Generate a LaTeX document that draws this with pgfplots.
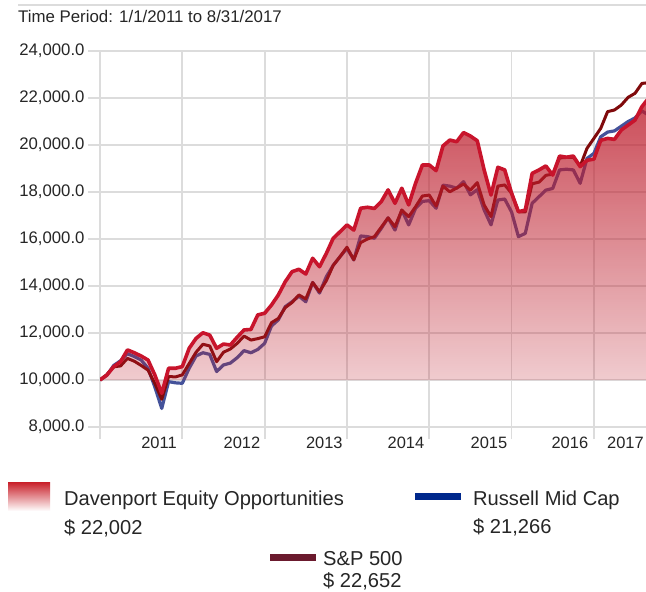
\documentclass[border=0pt]{standalone}
\usepackage{fontspec}
\setmainfont{Liberation Sans}
\usepackage{pgfplots}
\pgfplotsset{compat=1.18}
\usepackage{pgfplotstable}
\usetikzlibrary{fadings}
\definecolor{gridc}{HTML}{DCDCDC}
\definecolor{txt}{HTML}{262626}
\definecolor{davline}{HTML}{C8142C}
\definecolor{spline}{HTML}{800A0C}
\definecolor{rmcline}{HTML}{44529A}
\definecolor{fillc}{HTML}{BE1E2D}
\definecolor{legsp}{HTML}{6B1A2E}
\definecolor{legrmc}{HTML}{00288C}
\definecolor{swtop}{HTML}{C81E28}
\tikzfading[name=fadeup, top color=transparent!20, bottom color=transparent!80]

\pgfplotstableread{
m dav sp rmc
0 10000 10000 10000
1 10210 10230 10200
2 10570 10560 10620
3 10780 10600 10820
4 11280 10920 11120
5 11160 10800 11000
6 11020 10620 10850
7 10850 10420 10500
8 10210 9850 9700
9 9430 9180 8790
10 10500 10150 9930
11 10500 10130 9880
12 10570 10220 9860
13 11350 10700 10500
14 11770 11180 11020
15 12010 11520 11160
16 11910 11450 11090
17 11350 10780 10360
18 11530 11180 10640
19 11490 11320 10720
20 11820 11560 10950
21 12130 11870 11250
22 12150 11700 11160
23 12770 11760 11300
24 12840 11840 11560
25 13190 12440 12300
26 13620 12620 12560
27 14180 13080 13120
28 14610 13300 13330
29 14710 13620 13570
30 14510 13450 13330
31 15180 14150 14150
32 14820 13760 13700
33 15390 14230 14400
34 16030 14880 14880
35 16310 15250 15250
36 16600 15650 15600
37 16380 15120 15110
38 17310 15850 16130
39 17350 16000 16100
40 17300 16100 16030
41 17590 16500 16450
42 18090 16900 16900
43 17520 16520 16380
44 18160 17230 17230
45 17450 16950 16600
46 18370 17370 17300
47 19150 17830 17600
48 19150 17870 17630
49 18910 17400 17310
50 19960 18250 18290
51 20210 18010 18250
52 20140 18170 18160
53 20530 18340 18440
54 20380 18080 17880
55 20180 18400 18100
56 18940 17450 17240
57 17870 16950 16600
58 19050 18250 17660
59 18940 18300 17700
60 17950 17950 17150
61 17160 17160 16100
62 17230 17150 16240
63 18790 18350 17520
64 18940 18420 17800
65 19110 18710 18080
66 18720 18760 18150
67 19530 19450 18940
68 19480 19470 18970
69 19530 19480 18940
70 19080 19100 18370
71 19350 19860 19430
72 19400 20280 19640
73 20200 20710 20350
74 20280 21420 20550
75 20240 21490 20600
76 20640 21700 20800
77 20850 22030 21000
78 21060 22200 21150
79 21630 22620 21450
80 22002 22652 21266
}\data

\pgfplotstableread{
m dav
0 10000
1 10210
2 10570
3 10780
4 11280
5 11160
6 11020
7 10850
8 10210
9 9430
10 10500
11 10500
12 10570
13 11350
14 11770
15 12010
16 11910
17 11350
18 11530
19 11490
20 11820
21 12130
22 12150
23 12770
24 12840
25 13190
26 13620
27 14180
28 14610
29 14710
30 14510
31 15180
32 14820
33 15390
34 16030
35 16310
36 16600
37 16380
38 17310
39 17350
40 17300
41 17590
42 18090
43 17520
44 18160
45 17450
46 18370
47 19150
48 19150
49 18910
50 19960
51 20210
52 20140
53 20530
54 20380
55 20180
56 18940
57 17870
58 19050
59 18940
60 17950
61 17160
62 17230
63 18790
64 18940
65 19110
66 18720
67 19530
68 19480
69 19530
70 19080
71 19350
72 19400
73 20200
74 20280
75 20240
76 20640
77 20850
78 21060
79 21630
80 22002
80 10000
0 10000
}\davarea

\begin{document}
\begin{tikzpicture}[x=1bp,y=1bp]
\useasboundingbox (0,0) rectangle (646,-592);
\fill[white] (0,0) rectangle (646,-592);
\draw[gridc, line width=1.5bp] (18,-5) -- (646,-5);
\node[anchor=base west, inner sep=0, font=\fontsize{16.9}{19}\selectfont, text=txt] at (18,-23) {Time Period: 1/1/2011 to 8/31/2017};

\begin{axis}[
  at={(100bp,-427bp)}, anchor=south west,
  width=546bp, height=376bp, scale only axis,
  xmin=0, xmax=79.6, ymin=8000, ymax=24000,
  xtick={0,12,...,72}, xticklabels={},
  ytick={8000,10000,...,24000},
  grid=major, major grid style={gridc, line width=1.8bp},
  axis line style={draw=none},
  tick align=outside, xtick pos=left, ytick pos=left,
  major tick length=12bp,
  tick style={gridc, line width=1.8bp},
  tick label style={font=\fontsize{16.8}{19}\selectfont, text=txt},
  yticklabel style={anchor=east},
  scaled y ticks=false,
  /pgf/number format/fixed,
  /pgf/number format/fixed zerofill,
  /pgf/number format/precision=1,
  /pgf/number format/1000 sep={,},
  /pgf/number format/assume math mode=true,
  extra x ticks={8.6,20.7,32.7,44.6,56.7,68.5,76.6},
  extra x tick labels={2011,2012,2013,2014,2015,2016,2017},
  extra x tick style={grid=none, major tick length=0pt, tick style={draw=none},
    xticklabel style={anchor=north, yshift=-6bp, font=\fontsize{16.5}{19}\selectfont}},
]
\addplot[rmcline, line width=3.2bp, line join=round] table[x=m, y=rmc] {\data};
\addplot[spline, line width=3.0bp, line join=round] table[x=m, y=sp] {\data};
\addplot[draw=none, fill=fillc, path fading=fadeup, forget plot] table[x=m, y=dav] {\davarea} -- cycle;
\addplot[davline, line width=3.6bp, line join=round] table[x=m, y=dav] {\data};
\end{axis}

\shade[top color=swtop, bottom color=white] (8,-482) rectangle (50,-511);
\node[anchor=base west, inner sep=0, font=\fontsize{20.2}{23}\selectfont, text=txt] at (64,-505) {Davenport Equity Opportunities};
\node[anchor=base west, inner sep=0, font=\fontsize{20.2}{23}\selectfont, text=txt] at (64,-534) {\$ 22,002};
\draw[legrmc, line width=7bp] (415,-496) -- (461,-496);
\node[anchor=base west, inner sep=0, font=\fontsize{20.2}{23}\selectfont, text=txt] at (473,-505) {Russell Mid Cap};
\node[anchor=base west, inner sep=0, font=\fontsize{20.2}{23}\selectfont, text=txt] at (473,-533) {\$ 21,266};
\draw[legsp, line width=7bp] (270,-557) -- (316,-557);
\node[anchor=base west, inner sep=0, font=\fontsize{20.2}{23}\selectfont, text=txt] at (323,-565) {S\&P 500};
\node[anchor=base west, inner sep=0, font=\fontsize{20.2}{23}\selectfont, text=txt] at (323,-587.5) {\$ 22,652};
\end{tikzpicture}
\end{document}
